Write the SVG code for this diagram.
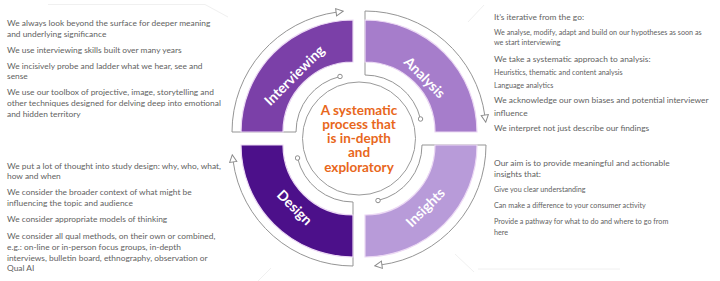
<svg xmlns="http://www.w3.org/2000/svg" width="720" height="281" viewBox="0 0 720 281">
<style>
.t{font-family:Lato,"Liberation Sans",sans-serif;fill:#5f5f5f;font-size:8.4px}
.s{font-size:7.2px}
.lbl{font-family:Lato,"Liberation Sans",sans-serif;font-weight:bold;font-size:14px;fill:#ffffff;text-anchor:middle;dominant-baseline:central}
.ctr{font-family:Lato,"Liberation Sans",sans-serif;font-weight:bold;font-size:13.5px;fill:#E8671C;text-anchor:middle}
.fr{fill:none;stroke:#959595;stroke-width:1}
.band{stroke:#ecd9f4;stroke-width:1.2}
.faint{fill:none;stroke:#f0f0f0;stroke-width:1}
</style>
<defs>
<marker id="arr" viewBox="0 0 10 10" refX="2" refY="5" markerWidth="9" markerHeight="9" markerUnits="userSpaceOnUse" orient="auto">
<path d="M1,1 L9,5 L1,9 Z" fill="#fff" stroke="#8a8a8a" stroke-width="1.1"/>
</marker>
<marker id="dot" viewBox="0 0 8 8" refX="4" refY="4" markerWidth="6" markerHeight="6" markerUnits="userSpaceOnUse">
<circle cx="4" cy="4" r="3" fill="#fff" stroke="#8a8a8a" stroke-width="1.3"/>
</marker>
</defs>
<rect width="720" height="281" fill="#ffffff"/>
<g id="background">
<path class="faint" d="M48,4.5 L205,4.5 L228,17"/>
<path class="faint" d="M484,5 L468,22"/>
<path class="faint" d="M271,268 L258,281"/>
<path class="faint" d="M455,254 L474,272"/>
<path class="faint" d="M478,269 L620,269"/>
</g>
<g id="connectors">
<path class="fr" d="M296,132 L232,132 A121,121 0 0 1 337,12.1" marker-end="url(#arr)"/>
<path class="fr" d="M296,132 A57,57 0 0 1 340,76.5" marker-end="url(#dot)"/>
<path class="fr" d="M365,75 L365,11 A121,121 0 0 1 484.9,116" marker-end="url(#arr)"/>
<path class="fr" d="M365,75 A57,57 0 0 1 420.5,119" marker-end="url(#dot)"/>
<path class="fr" d="M422,145 L486,145 A121,121 0 0 1 381,264.9" marker-end="url(#arr)"/>
<path class="fr" d="M422,145 A57,57 0 0 1 378,200.5" marker-end="url(#dot)"/>
<path class="fr" d="M353,202 L353,266 A121,121 0 0 1 233.1,161" marker-end="url(#arr)"/>
<path class="fr" d="M353,202 A57,57 0 0 1 297.5,158" marker-end="url(#dot)"/>
</g>
<g id="interviewing">
<path class="band" fill="#7B40A8" d="M241,132 A112,112 0 0 1 353,20 L353,62 A70,70 0 0 0 283,132 Z"/>
<text class="lbl" transform="translate(294,75) rotate(-45)">Interviewing</text>
<text class="t" x="7" y="26">We always look beyond the surface for deeper meaning</text>
<text class="t" x="7" y="36.5">and underlying significance</text>
<text class="t" x="7" y="53">We use interviewing skills built over many years</text>
<text class="t" x="7" y="68.5">We incisively probe and ladder what we hear, see and</text>
<text class="t" x="7" y="79">sense</text>
<text class="t" x="7" y="95">We use our toolbox of projective, image, storytelling and</text>
<text class="t" x="7" y="106">other techniques designed for delving deep into emotional</text>
<text class="t" x="7" y="117">and hidden territory</text>
</g>
<g id="analysis">
<path class="band" fill="#A67DCB" d="M365,20 A112,112 0 0 1 477,132 L435,132 A70,70 0 0 0 365,62 Z"/>
<text class="lbl" transform="translate(425,77) rotate(45)">Analysis</text>
<text class="t" x="494" y="20">It’s iterative from the go:</text>
<text class="t s" x="494" y="35">We analyse, modify, adapt and build on our hypotheses as soon as</text>
<text class="t s" x="494" y="45">we start interviewing</text>
<text class="t" x="494" y="61.5">We take a systematic approach to analysis:</text>
<text class="t s" x="494" y="74.5">Heuristics, thematic and content analysis</text>
<text class="t s" x="494" y="88">Language analytics</text>
<text class="t" x="494" y="103">We acknowledge our own biases and potential interviewer</text>
<text class="t" x="494" y="115.5">influence</text>
<text class="t" x="494" y="131">We interpret not just describe our findings</text>
</g>
<g id="insights">
<path class="band" fill="#B89BD9" d="M477,145 A112,112 0 0 1 365,257 L365,215 A70,70 0 0 0 435,145 Z"/>
<text class="lbl" transform="translate(425,207) rotate(-45)">Insights</text>
<text class="t" x="494" y="165.5">Our aim is to provide meaningful and actionable</text>
<text class="t" x="494" y="176.5">insights that:</text>
<text class="t s" x="494" y="192">Give you clear understanding</text>
<text class="t s" x="494" y="208">Can make a difference to your consumer activity</text>
<text class="t s" x="494" y="223.7">Provide a pathway for what to do and where to go from</text>
<text class="t s" x="494" y="234.5">here</text>
</g>
<g id="design">
<path class="band" fill="#4C108A" d="M353,257 A112,112 0 0 1 241,145 L283,145 A70,70 0 0 0 353,215 Z"/>
<text class="lbl" transform="translate(295,207) rotate(45)">Design</text>
<text class="t" x="7" y="169">We put a lot of thought into study design: why, who, what,</text>
<text class="t" x="7" y="178.5">how and when</text>
<text class="t" x="7" y="195">We consider the broader context of what might be</text>
<text class="t" x="7" y="206">influencing the topic and audience</text>
<text class="t" x="7" y="222">We consider appropriate models of thinking</text>
<text class="t" x="7" y="239">We consider all qual methods, on their own or combined,</text>
<text class="t" x="7" y="250">e.g.: on-line or in-person focus groups, in-depth</text>
<text class="t" x="7" y="260.5">interviews, bulletin board, ethnography, observation or</text>
<text class="t" x="7" y="271">Qual AI</text>
</g>
<g id="center">
<circle cx="359" cy="138.5" r="56.5" fill="#ffffff" stroke="#9a9a9a" stroke-width="1"/>
<text class="ctr" x="359" y="114.5">A systematic</text>
<text class="ctr" x="359" y="128.8">process that</text>
<text class="ctr" x="359" y="143.1">is in-depth</text>
<text class="ctr" x="359" y="157.4">and</text>
<text class="ctr" x="359" y="171.7">exploratory</text>
</g>
</svg>
